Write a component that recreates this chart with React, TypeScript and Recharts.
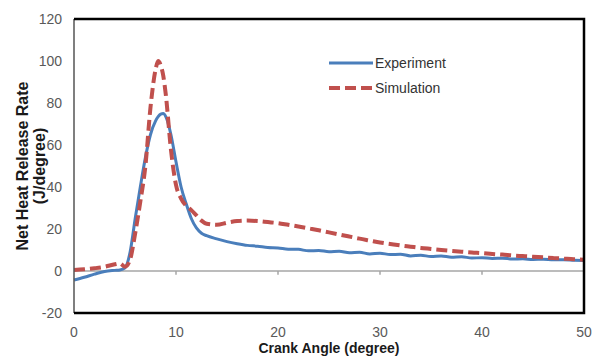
import { LineChart, Line, XAxis, YAxis, ReferenceLine } from 'recharts';

const FONT = '"Liberation Sans", Arial, sans-serif';

// crank angle (degree)
const angles = [
  0, 1, 2, 3, 4, 4.5, 5, 5.5, 6, 6.5, 7, 7.5, 8, 8.25, 8.5, 8.75, 9, 9.5, 10, 10.5, 11, 11.5, 12, 12.5, 13,
  14, 15, 16, 17, 18, 19, 20, 21, 22, 23, 24, 25, 26, 27, 28, 29, 30, 31, 32, 33, 34, 35, 36, 37, 38, 39, 40,
  41, 42, 43, 44, 45, 46, 47, 48, 49, 50,
];

// net heat release rate (J/degree)
const experiment = [
  -4.3, -3.0, -1.5, -0.2, 0.3, 0.5, 1.5, 9, 25, 40, 54, 65, 71.5, 73.5, 74.7, 75, 73.5, 65, 52, 40, 32, 25, 20.5, 18, 16.8,
  15.3, 14, 13, 12.2, 11.8, 11.2, 11, 10.4, 10.3, 9.6, 9.8, 9.2, 9.4, 8.7, 8.9, 8.1, 8.5, 7.8, 8.0, 7.2, 7.5, 6.9, 7.2, 6.6, 6.8, 6.2, 6.3,
  6.0, 6.1, 5.7, 5.8, 5.5, 5.6, 5.3, 5.3, 5.1, 5.0,
];

const simulation = [
  0.5, 0.8, 1.3, 2.0, 3.2, 3.6, 2.0, 5.5, 18, 33, 50, 78, 96, 100, 98, 93, 84, 58, 41, 34.5, 31, 29, 26.5, 24, 22.5,
  22, 23, 23.8, 24, 23.8, 23.3, 22.8, 22, 21.2, 20.3, 19.4, 18.4, 17.4, 16.4, 15.4, 14.5, 13.6, 12.9, 12.2, 11.6, 11.0, 10.5, 10.0, 9.6, 9.2, 8.8, 8.5,
  8.1, 7.8, 7.4, 7.1, 6.8, 6.5, 6.2, 5.9, 5.6, 5.4,
];

const xTicks = [0, 10, 20, 30, 40, 50];
const yTicks = [-20, 0, 20, 40, 60, 80, 100, 120];

const data = angles.map((angle, i) => ({
  angle,
  experiment: experiment[i],
  simulation: simulation[i],
}));

const BLUE = '#4a7ebb';
const RED = '#c0504d';
const FRAME = '#000';

const PLOT = { left: 74, top: 19, right: 9, bottom: 43 };
const W = 593;
const H = 356;

function LegendBox() {
  const items = [
    { name: 'Experiment', color: BLUE, dash: undefined, width: 3 },
    { name: 'Simulation', color: RED, dash: '11 5', width: 4 },
  ];
  return (
    <div style={{ position: 'absolute', left: 329, top: 50, fontFamily: FONT, fontSize: 14, color: '#333' }}>
      {items.map(item => (
        <div key={item.name} style={{ display: 'flex', alignItems: 'center', height: 25 }}>
          <svg width={46} height={10}>
            <line x1={0} y1={5} x2={44} y2={5} stroke={item.color} strokeWidth={item.width} strokeDasharray={item.dash} />
          </svg>
          <span>{item.name}</span>
        </div>
      ))}
    </div>
  );
}

export default function App() {
  return (
    <div style={{ position: 'absolute', left: 0, top: 0, width: W, height: H, background: '#fff', fontFamily: FONT }}>
      <LineChart width={W} height={H} data={data} margin={{ top: PLOT.top, right: PLOT.right, bottom: 0, left: 0 }}>
        <XAxis
          dataKey="angle"
          type="number"
          domain={[0, 50]}
          ticks={xTicks}
          interval={0}
          axisLine={false}
          tickLine={false}
          tickSize={0}
          tickMargin={14}
          height={PLOT.bottom}
          tick={{ fill: '#595959', fontSize: 14, fontFamily: FONT }}
          label={({ viewBox }: any) => {
            const left = viewBox.x;
            const right = viewBox.x + viewBox.width;
            const bottom = viewBox.y;
            return (
              <g>
                {/* plot frame: top, right and bottom edges */}
                <path
                  d={`M${left},${PLOT.top} H${right} V${bottom} H${left}`}
                  fill="none"
                  stroke={FRAME}
                  strokeWidth={2.5}
                />
                <text
                  x={left + viewBox.width / 2}
                  y={353}
                  textAnchor="middle"
                  fill="#1a1a1a"
                  fontSize={14}
                  fontWeight="bold"
                  fontFamily={FONT}
                >
                  Crank Angle (degree)
                </text>
              </g>
            );
          }}
        />
        <YAxis
          type="number"
          domain={[-20, 120]}
          ticks={yTicks}
          interval={0}
          axisLine={false}
          tickLine={false}
          tickSize={0}
          tickMargin={12}
          width={PLOT.left}
          tick={{ fill: '#595959', fontSize: 14, fontFamily: FONT }}
          label={({ viewBox }: any) => {
            const cy = viewBox.y + viewBox.height / 2;
            return (
              <g fontFamily={FONT} fontWeight="bold" fontSize={16} fill="#1a1a1a">
                <text x={22} y={cy} textAnchor="middle" dominantBaseline="central" transform={`rotate(-90 22 ${cy})`}>
                  Net Heat Release Rate
                </text>
                <text x={39} y={cy} textAnchor="middle" dominantBaseline="central" transform={`rotate(-90 39 ${cy})`}>
                  (J/degree)
                </text>
              </g>
            );
          }}
        />
        <ReferenceLine y={0} stroke="#a6a6a6" strokeWidth={1.5} />
        {xTicks.slice(1, -1).map(t => (
          <ReferenceLine key={t} segment={[{ x: t, y: 0 }, { x: t, y: -1.8 }]} stroke="#a6a6a6" strokeWidth={1.5} />
        ))}
        <Line type="monotone" dataKey="experiment" name="Experiment" stroke={BLUE} strokeWidth={3} dot={false} isAnimationActive={false} />
        <Line
          type="monotone"
          dataKey="simulation"
          name="Simulation"
          stroke={RED}
          strokeWidth={4}
          strokeDasharray="11 5"
          dot={false}
          isAnimationActive={false}
        />
        <ReferenceLine x={0} stroke="#555" strokeWidth={1.5} ifOverflow="visible" />
      </LineChart>
      <LegendBox />
    </div>
  );
}
